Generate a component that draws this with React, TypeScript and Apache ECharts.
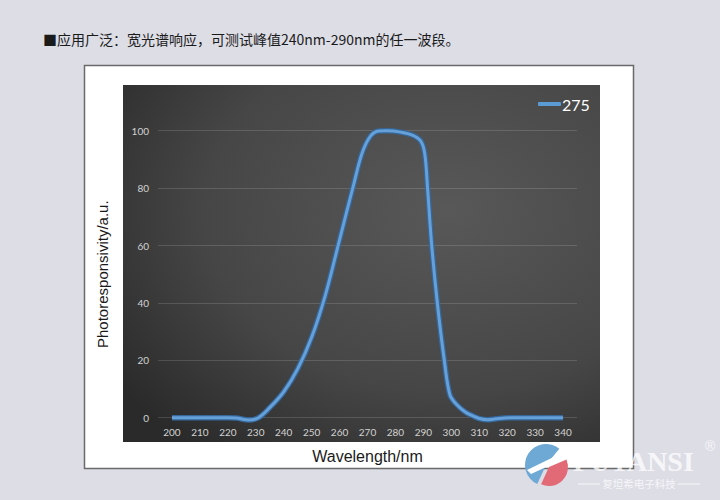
import React, { useEffect, useRef } from "react";
import * as echarts from "echarts";

const titleText = "■应用广泛：宽光谱响应，可测试峰值240nm-290nm的任一波段。";
const seriesName = "275";
const xAxisTitle = "Wavelength/nm";
const yAxisTitle = "Photoresponsivity/a.u.";
const brandName = "FUTANSI";
const brandSub = "复坦希电子科技";

const wavelengths = [
  200, 210, 220, 223, 227.5, 231, 235, 240, 245, 250,
  255, 260, 265, 268, 271, 274, 277, 282, 286,
  289, 290.5, 291.5, 293, 295, 297.5, 299.5, 302, 305, 308,
  310, 313, 316, 319, 322, 330, 340,
];
const responsivity = [
  0, 0, 0, -0.1, -0.8, 0, 3.5, 9, 17, 28,
  43, 62, 81, 92, 98, 99.9, 100, 99.5, 98.5,
  96.5, 92, 80, 60, 40, 20, 8, 4.5, 2, 0.5,
  -0.3, -0.7, -0.4, -0.1, 0, 0, 0,
];

export default function App() {
  const ref = useRef<HTMLDivElement>(null);
  useEffect(() => {
    if (!ref.current) return;
    const chart = echarts.init(ref.current, null, { renderer: "svg" });
    const data = wavelengths.map((w, i) => [w, responsivity[i]]);
    chart.setOption({
      animation: false,
      backgroundColor: "#dddde6",
      title: {
        text: titleText,
        left: 38,
        top: 27,
        textStyle: {
          fontFamily: "Noto Sans CJK SC",
          fontSize: 14,
          fontWeight: "normal",
          color: "#1a1a1a",
        },
      },
      legend: {
        data: [{ name: seriesName, icon: "roundRect" }],
        left: 533,
        top: 91,
        itemWidth: 23,
        itemHeight: 4,
        itemStyle: { color: "#5b9bd5" },
        textStyle: {
          color: "#ffffff",
          fontSize: 16,
          fontFamily: "Lato",
          padding: [0, 0, 0, -4],
        },
      },
      grid: { left: 158, right: 143, top: 130.7, bottom: 82.3 },
      xAxis: {
        type: "value",
        min: 195,
        max: 345,
        interval: 5,
        name: xAxisTitle,
        nameLocation: "middle",
        nameGap: 31,
        nameTextStyle: { fontSize: 16, color: "#1a1a1a", fontFamily: "Liberation Sans" },
        axisLine: { show: false },
        axisTick: { show: false },
        splitLine: { show: false },
        axisLabel: {
          color: "#d2d2d2",
          fontSize: 10,
          fontFamily: "Lato",
          margin: 9,
          formatter: (v: number) => (v % 10 === 0 ? String(v) : ""),
        },
      },
      yAxis: {
        type: "value",
        min: 0,
        max: 100,
        interval: 20,
        name: yAxisTitle,
        nameLocation: "middle",
        nameGap: 48,
        nameRotate: 90,
        nameTextStyle: { fontSize: 15, color: "#1a1a1a", fontFamily: "Liberation Sans" },
        axisLine: { show: false },
        axisTick: { show: false },
        splitLine: { lineStyle: { color: "rgba(255,255,255,0.14)", width: 1 } },
        axisLabel: { color: "#d2d2d2", fontSize: 10, fontFamily: "Lato", margin: 9 },
      },
      graphic: [
        {
          type: "rect",
          z: -10,
          shape: { x: 84.5, y: 65.5, width: 549, height: 403 },
          style: { fill: "#ffffff", stroke: "#6a6a6a", lineWidth: 1.5 },
        },
        {
          type: "rect",
          z: -9,
          shape: { x: 123, y: 85, width: 477, height: 357 },
          style: {
            fill: {
              type: "radial",
              x: 0.68,
              y: 0.35,
              r: 0.85,
              colorStops: [
                { offset: 0, color: "#585858" },
                { offset: 0.6, color: "#464646" },
                { offset: 1, color: "#2a2a2a" },
              ],
            },
          },
        },
        {
          type: "group",
          z: 100,
          children: [
            {
              type: "sector",
              shape: { cx: 546, cy: 465, r: 21, r0: 0, startAngle: 2.0, endAngle: 5.4, clockwise: true },
              style: { fill: "#6ea8d4" },
            },
            {
              type: "sector",
              shape: { cx: 549, cy: 467, r: 19, r0: 0, startAngle: -0.4, endAngle: 2.0, clockwise: true },
              style: { fill: "#e26a76" },
            },
            {
              type: "polygon",
              shape: { points: [[527, 470], [568, 450], [570, 456], [531, 474]] },
              style: { fill: "#ffffff" },
            },
            {
              type: "text",
              x: 573,
              y: 447,
              style: {
                text: brandName,
                fontFamily: "Liberation Serif",
                fontWeight: "bold",
                fontSize: 28,
                fill: "rgba(255,255,255,0.75)",
              },
            },
            {
              type: "text",
              x: 705,
              y: 439,
              style: { text: "®", fontFamily: "Liberation Sans", fontSize: 14, fill: "rgba(255,255,255,0.8)" },
            },
            {
              type: "line",
              shape: { x1: 578, y1: 484, x2: 600, y2: 484 },
              style: { stroke: "rgba(255,255,255,0.75)", lineWidth: 1 },
            },
            {
              type: "text",
              x: 639,
              y: 478,
              style: {
                text: brandSub,
                align: "center",
                fontFamily: "Noto Sans CJK SC",
                fontSize: 10.5,
                fill: "rgba(255,255,255,0.75)",
              },
            },
            {
              type: "line",
              shape: { x1: 678, y1: 484, x2: 700, y2: 484 },
              style: { stroke: "rgba(255,255,255,0.75)", lineWidth: 1 },
            },
          ],
        },
      ],
      series: [
        {
          name: "outline",
          type: "line",
          data,
          smooth: 0.35,
          showSymbol: false,
          clip: false,
          silent: true,
          lineStyle: { color: "#35679b", width: 5.5 },
          z: 2,
        },
        {
          name: seriesName,
          type: "line",
          data,
          smooth: 0.35,
          showSymbol: false,
          clip: false,
          lineStyle: { color: "#66a0d8", width: 3 },
          itemStyle: { color: "#5b9bd5" },
          z: 3,
        },
      ],
    });
    return () => chart.dispose();
  }, []);
  return (
    <div
      ref={ref}
      style={{ position: "fixed", left: 0, top: 0, width: 720, height: 500 }}
    />
  );
}
